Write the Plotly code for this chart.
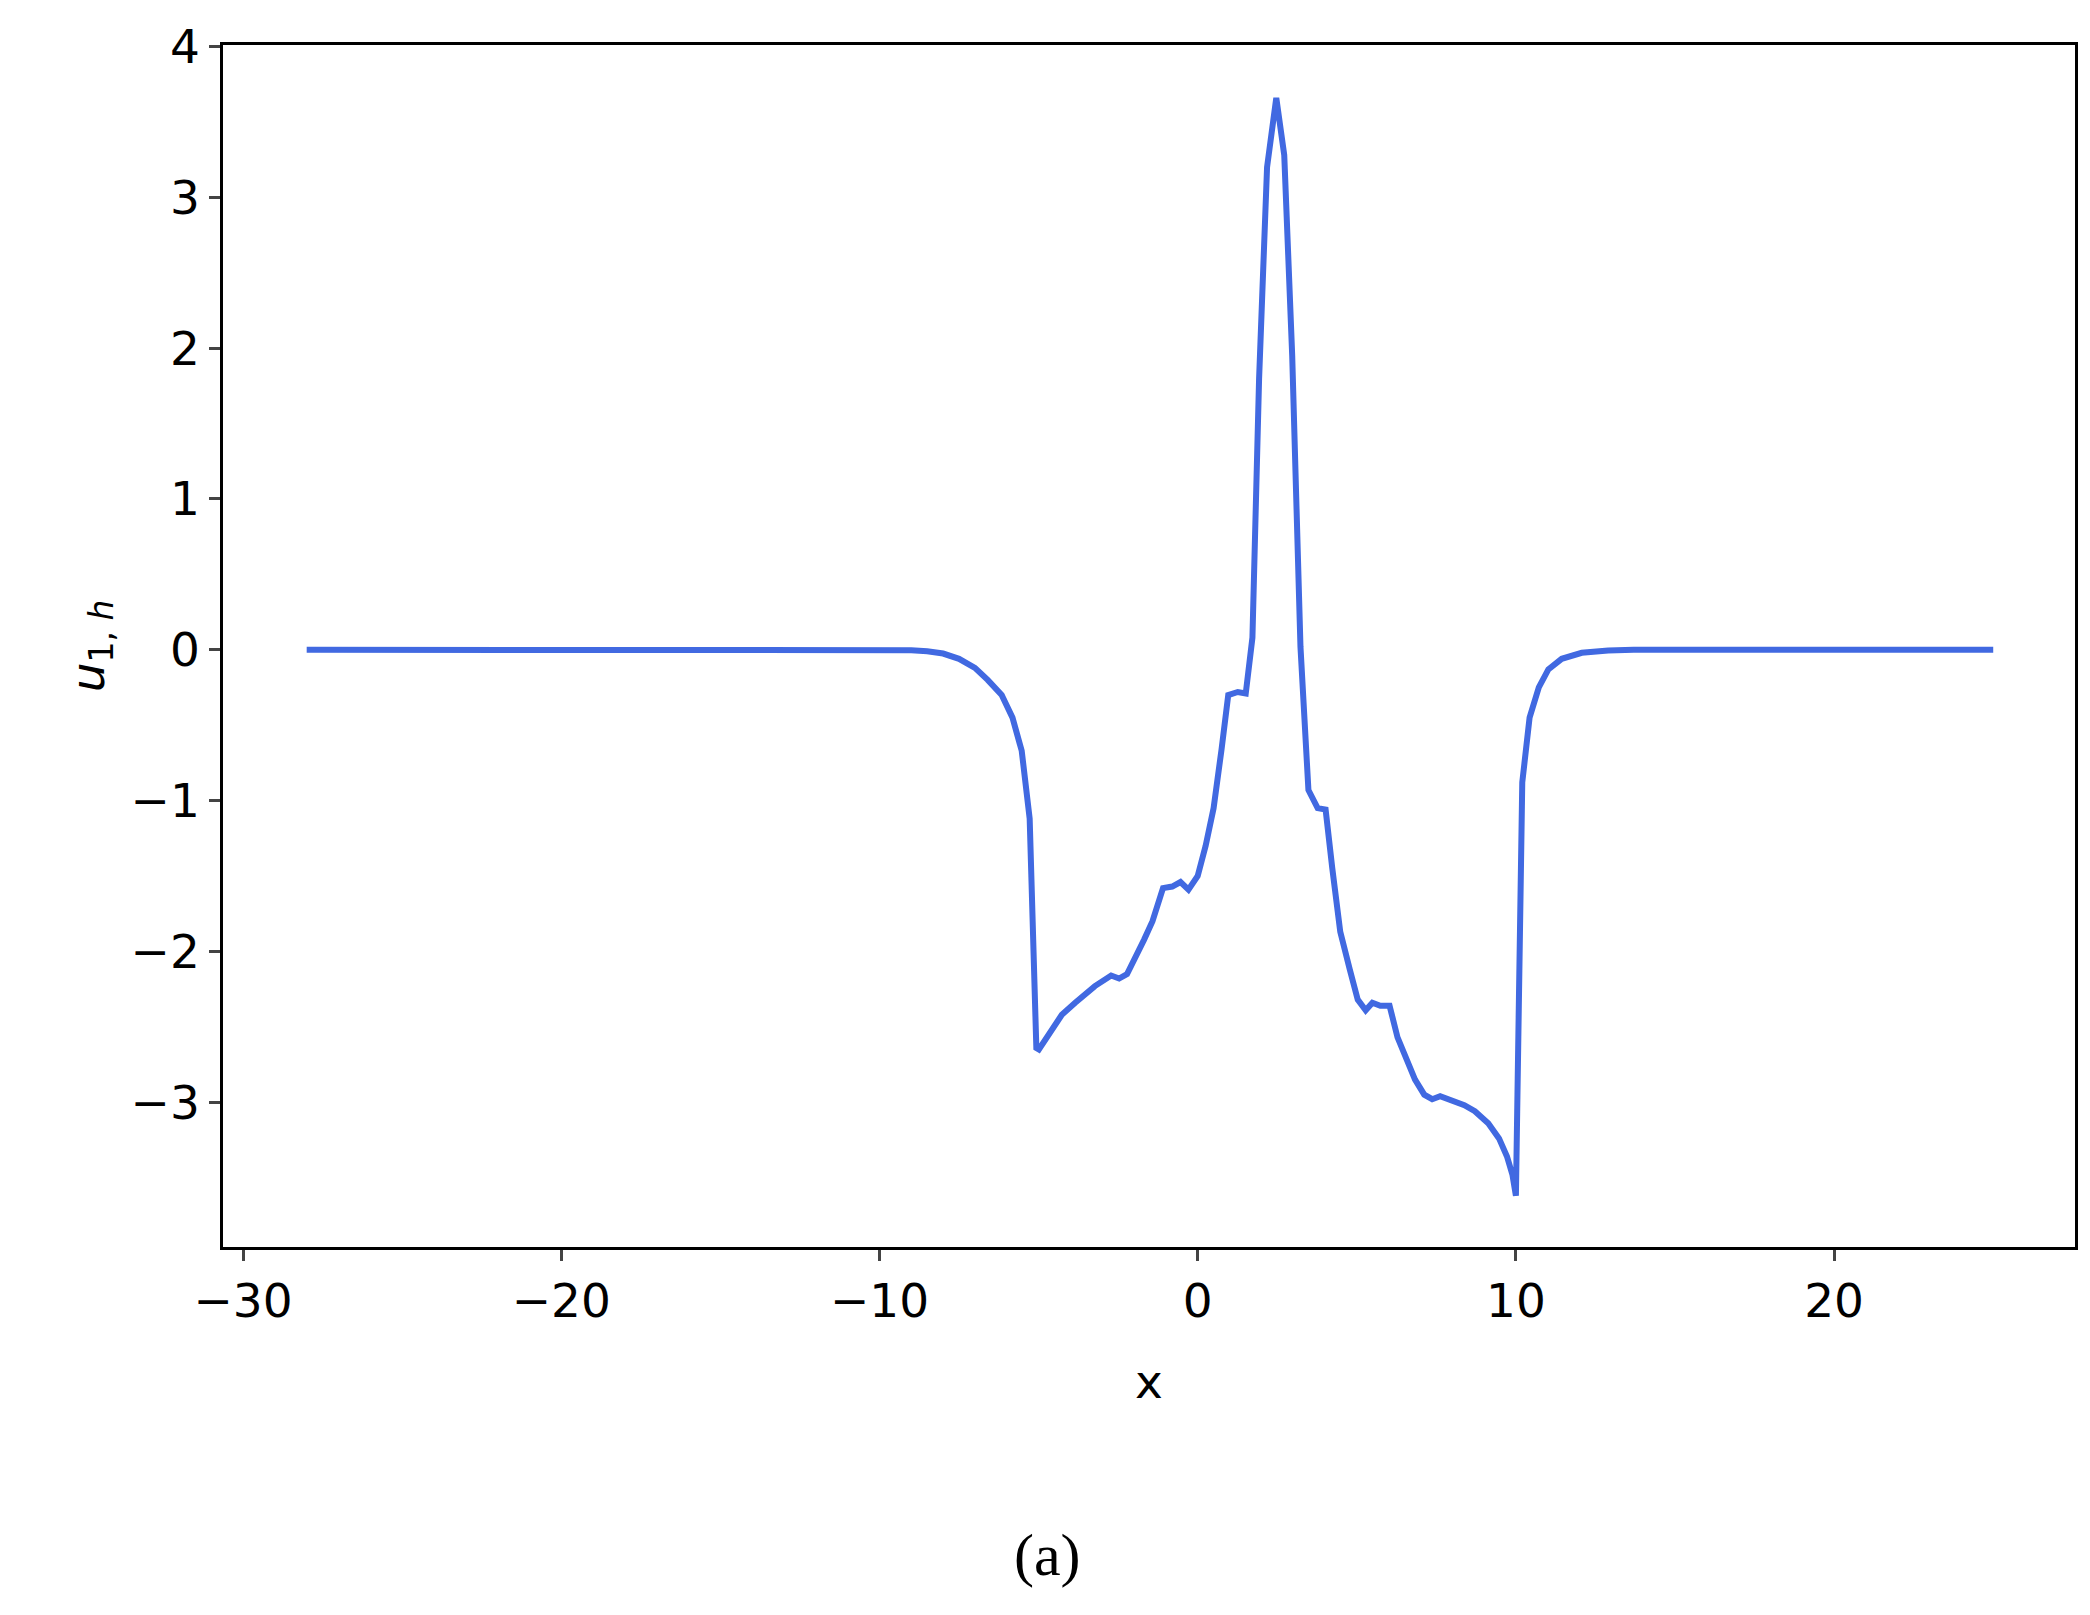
import plotly.graph_objects as go

x_vals = [-28,-10,-9,-8.5,-8,-7.5,-7,-6.6,-6.16,-5.82,-5.53,-5.28,-5.07,-4.99,-4.69,-4.27,-3.85,-3.23,-2.72,-2.47,-2.22,-1.97,-1.68,-1.42,-1.09,-0.80,-0.54,-0.29,0.0,0.25,0.50,0.75,0.96,1.26,1.51,1.72,1.93,2.18,2.47,2.72,2.97,3.23,3.48,3.77,4.02,4.23,4.48,4.78,5.03,5.28,5.49,5.74,6.03,6.28,6.58,6.83,7.12,7.37,7.62,7.96,8.38,8.71,9.13,9.47,9.72,9.89,10.0,10.2,10.43,10.72,11.02,11.44,12.07,12.9,13.7,25]
y_vals = [0,0,-0.003,-0.01,-0.025,-0.06,-0.12,-0.2,-0.3,-0.45,-0.67,-1.12,-2.64,-2.65,-2.56,-2.42,-2.34,-2.23,-2.16,-2.18,-2.15,-2.05,-1.92,-1.80,-1.58,-1.57,-1.54,-1.59,-1.50,-1.30,-1.05,-0.66,-0.30,-0.28,-0.29,0.08,1.8,3.2,3.66,3.28,1.95,0.02,-0.93,-1.05,-1.06,-1.45,-1.87,-2.12,-2.32,-2.39,-2.34,-2.36,-2.36,-2.57,-2.72,-2.85,-2.95,-2.98,-2.96,-2.99,-3.02,-3.06,-3.14,-3.24,-3.36,-3.48,-3.62,-0.88,-0.45,-0.25,-0.13,-0.06,-0.02,-0.005,0,0]
x_ticks = [-30,-20,-10,0,10,20]
y_ticks = [-3,-2,-1,0,1,2,3,4]

fig = go.Figure(go.Scatter(x=x_vals, y=y_vals, mode="lines",
                           line=dict(color="#4169E1", width=6)))
ax = dict(showline=True, mirror=True, linecolor="black", linewidth=2.5,
          ticks="outside", ticklen=11, tickwidth=2.5, showgrid=False, zeroline=False,
          tickfont=dict(size=47, color="black"))
fig.update_xaxes(range=[-30.63, 27.57], tickvals=x_ticks,
                 ticktext=[str(t).replace("-", "−") for t in x_ticks],
                 title=dict(text="x", font=dict(size=47), standoff=38), **ax)
fig.update_yaxes(range=[-3.96, 4.01], tickvals=y_ticks,
                 ticktext=[str(t).replace("-", "−") for t in y_ticks],
                 title=dict(text="<i>u</i><sub>1, <i>h</i></sub>", font=dict(size=47), standoff=12), **ax)
fig.add_annotation(text="(a)", xref="paper", yref="paper", x=0.445, y=-0.285,
                   showarrow=False, font=dict(family="Liberation Serif", size=60, color="black"))
fig.update_layout(width=2090, height=1615, template="plotly_white",
                  plot_bgcolor="white", paper_bgcolor="white", showlegend=False,
                  font=dict(family="DejaVu Sans", color="black"),
                  margin=dict(l=215, r=23, t=37, b=376))
fig.write_html("out.html")
